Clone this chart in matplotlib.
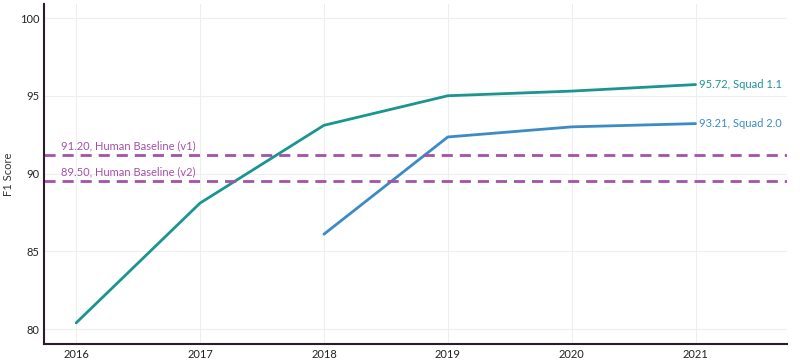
import matplotlib.pyplot as plt

years = [2016, 2017, 2018, 2019, 2020, 2021]
squad11 = [80.4, 88.1, 93.1, 95.0, 95.3, 95.72]
squad20_years = [2018, 2019, 2020, 2021]
squad20 = [86.1, 92.35, 93.0, 93.21]
human_v1 = 91.20
human_v2 = 89.50

teal = '#1b9590'
blue = '#3a8bc6'
purple = '#a352a8'

plt.rcParams['font.family'] = ['Lato', 'DejaVu Sans']

fig = plt.figure(figsize=(8, 3.64), dpi=100)
ax = fig.add_axes([0.055, 0.055, 0.929, 0.934])

ax.plot(years, squad11, color=teal, lw=2, solid_capstyle='round')
ax.plot(squad20_years, squad20, color=blue, lw=2, solid_capstyle='round')
ax.axhline(human_v1, color=purple, lw=2, ls=(0, (4, 2.5)))
ax.axhline(human_v2, color=purple, lw=2, ls=(0, (4, 2.5)))

ax.text(years[-1] + 0.03, squad11[-1], f'{squad11[-1]:.2f}, Squad 1.1',
        color=teal, fontsize=8, va='center')
ax.text(years[-1] + 0.03, squad20[-1], f'{squad20[-1]:.2f}, Squad 2.0',
        color=blue, fontsize=8, va='center')
ax.text(2015.88, human_v1 + 0.25, f'{human_v1:.2f}, Human Baseline (v1)',
        color=purple, fontsize=8, va='bottom')
ax.text(2015.88, human_v2 + 0.25, f'{human_v2:.2f}, Human Baseline (v2)',
        color=purple, fontsize=8, va='bottom')

ax.set_xlim(2015.74, 2021.74)
ax.set_ylim(79.04, 100.9)
ax.set_xticks(years)
ax.set_yticks([80, 85, 90, 95, 100])
ax.set_ylabel('F1 Score', fontsize=8, color='#333333')
ax.tick_params(length=0, labelsize=8, colors='#222222')
ax.grid(color='#eeeeee', lw=0.8)
ax.set_axisbelow(True)
for s in ['top', 'right']:
    ax.spines[s].set_visible(False)
for s in ['left', 'bottom']:
    ax.spines[s].set_color('#2b1b2b')
    ax.spines[s].set_linewidth(1.5)

fig.savefig('out.png', dpi=100)
